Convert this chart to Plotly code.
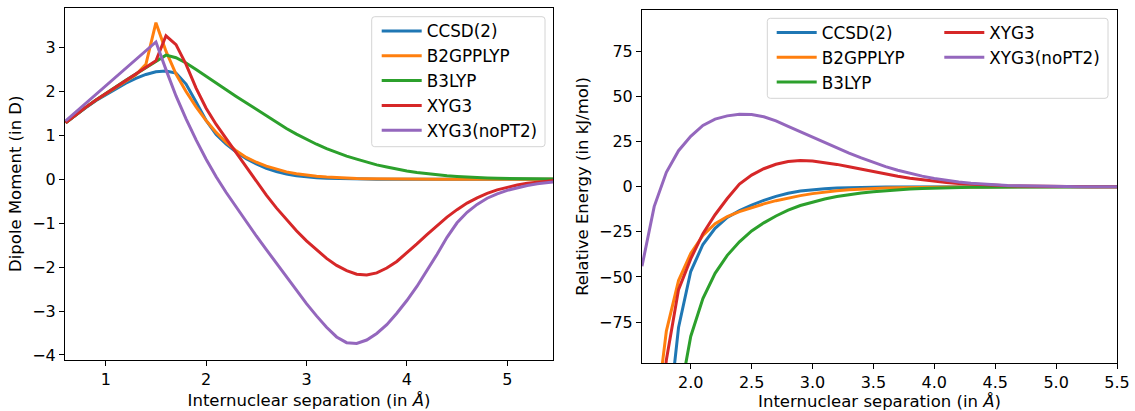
import plotly.graph_objects as go

# ---------------- data ----------------
names = ["CCSD(2)", "B2GPPLYP", "B3LYP", "XYG3", "XYG3(noPT2)"]
colors = ["#1f77b4", "#ff7f0e", "#2ca02c", "#d62728", "#9467bd"]

# Left panel: dipole moment (D)
x_dip = [0.6, 0.7, 0.8, 0.9, 1.0, 1.1, 1.2, 1.3, 1.4, 1.5, 1.6, 1.7, 1.8, 1.9, 2.0,
         2.1, 2.2, 2.3, 2.4, 2.5, 2.6, 2.7, 2.8, 2.9, 3.0, 3.1, 3.2, 3.3, 3.4, 3.5,
         3.6, 3.7, 3.8, 3.9, 4.0, 4.1, 4.2, 4.3, 4.4, 4.5, 4.6, 4.7, 4.8, 4.9, 5.0,
         5.1, 5.2, 5.3, 5.4, 5.5]
dip_ccsd = [1.29, 1.47, 1.63, 1.79, 1.93, 2.07, 2.19, 2.30, 2.39, 2.45, 2.47, 2.42, 2.17, 1.76, 1.34,
            1.02, 0.80, 0.62, 0.47, 0.35, 0.25, 0.18, 0.12, 0.08, 0.055, 0.037, 0.025, 0.017, 0.012, 0.008,
            0.006, 0.004, 0.003, 0.002, 0.002, 0.001, 0.001, 0.001, 0.0, 0.0, 0.0, 0.0, 0.0, 0.0, 0.0,
            0.0, 0.0, 0.0, 0.0, 0.0]
dip_b2gp = [1.29, 1.47, 1.64, 1.80, 1.95, 2.10, 2.24, 2.38, 2.62, 3.57, 2.92, 2.40, 2.00, 1.65, 1.34,
            1.07, 0.84, 0.65, 0.50, 0.39, 0.30, 0.23, 0.17, 0.13, 0.095, 0.07, 0.052, 0.038, 0.028, 0.02,
            0.015, 0.011, 0.008, 0.006, 0.004, 0.003, 0.002, 0.002, 0.001, 0.001, 0.0, 0.0, 0.0, 0.0, 0.0,
            0.0, 0.0, 0.0, 0.0, 0.0]
dip_b3lyp = [1.29, 1.47, 1.64, 1.80, 1.96, 2.11, 2.26, 2.40, 2.55, 2.70, 2.83, 2.77, 2.65, 2.50, 2.34,
             2.19, 2.04, 1.89, 1.74, 1.59, 1.44, 1.30, 1.16, 1.03, 0.91, 0.80, 0.70, 0.61, 0.53, 0.46,
             0.39, 0.33, 0.28, 0.23, 0.19, 0.155, 0.125, 0.10, 0.08, 0.065, 0.05, 0.04, 0.032, 0.025, 0.02,
             0.015, 0.012, 0.009, 0.007, 0.005]
dip_xyg3 = [1.29, 1.47, 1.64, 1.80, 1.95, 2.10, 2.25, 2.40, 2.55, 2.70, 3.27, 3.07, 2.62, 2.08, 1.62,
            1.25, 0.93, 0.60, 0.27, -0.05, -0.36, -0.65, -0.92, -1.17, -1.40, -1.61, -1.80, -1.96, -2.08, -2.16,
            -2.18, -2.13, -2.02, -1.87, -1.68, -1.47, -1.26, -1.05, -0.86, -0.69, -0.54, -0.42, -0.32, -0.24, -0.18,
            -0.13, -0.09, -0.06, -0.04, -0.02]
dip_nopt2 = [1.33, 1.53, 1.73, 1.93, 2.13, 2.33, 2.53, 2.73, 2.93, 3.13, 2.50, 1.90, 1.38, 0.90, 0.46,
             0.06, -0.30, -0.64, -0.97, -1.29, -1.60, -1.91, -2.22, -2.53, -2.83, -3.11, -3.37, -3.59, -3.72, -3.74,
             -3.66, -3.51, -3.31, -3.05, -2.76, -2.44, -2.09, -1.71, -1.32, -0.99, -0.75, -0.57, -0.43, -0.33, -0.25,
             -0.19, -0.14, -0.10, -0.07, -0.05]

# Right panel: relative energy (kJ/mol)
x_en = [1.6, 1.7, 1.8, 1.9, 2.0, 2.1, 2.2, 2.3, 2.4, 2.5, 2.6, 2.7, 2.8, 2.9, 3.0,
        3.1, 3.2, 3.3, 3.4, 3.5, 3.6, 3.7, 3.8, 3.9, 4.0, 4.1, 4.2, 4.3, 4.4, 4.5,
        4.6, 4.7, 4.8, 4.9, 5.0, 5.1, 5.2, 5.3, 5.4, 5.5]
en_ccsd = [-300, -220, -140, -78, -47, -32, -23, -17, -13.2, -10.2, -7.5, -5.3, -3.6, -2.4, -1.6,
           -1.05, -0.7, -0.45, -0.3, -0.2, -0.13, -0.09, -0.06, -0.04, -0.03, -0.02, -0.01, 0, 0, 0,
           0, 0, 0, 0, 0, 0, 0, 0, 0, 0]
en_b2gp = [-200, -135, -80, -52, -37, -27, -20.5, -16.5, -13.8, -11.5, -9.5, -7.7, -6.2, -4.9, -3.8,
           -2.9, -2.2, -1.7, -1.3, -1.0, -0.75, -0.55, -0.4, -0.3, -0.22, -0.16, -0.12, -0.08, -0.06, -0.04,
           -0.03, -0.02, -0.01, -0.01, 0, 0, 0, 0, 0, 0]
en_b3lyp = [-420, -290, -190, -120, -83, -62, -48, -38, -30.5, -24.5, -20, -16.2, -13, -10.4, -8.4,
            -6.8, -5.4, -4.3, -3.4, -2.7, -2.1, -1.6, -1.25, -0.95, -0.72, -0.55, -0.42, -0.32, -0.24, -0.18,
            -0.14, -0.1, -0.08, -0.06, -0.04, -0.03, -0.02, -0.02, -0.01, -0.01]
en_xyg3 = [-250, -160, -96, -57, -40, -26, -15.5, -6.5, 1.5, 6.5, 10, 12.5, 14, 14.5, 14.3,
           13.5, 12.4, 11.1, 9.7, 8.3, 7.0, 5.8, 4.7, 3.8, 3.0, 2.35, 1.8, 1.4, 1.05, 0.8,
           0.6, 0.45, 0.33, 0.25, 0.18, 0.13, 0.1, 0.07, 0.05, 0.03]
en_nopt2 = [-44, -11, 8, 20, 28, 34, 37.5, 39.3, 40.2, 40.0, 38.8, 36.5, 33.5, 30.5, 27.4,
            24.5, 21.5, 18.7, 16.0, 13.5, 11.2, 9.2, 7.4, 5.9, 4.6, 3.5, 2.6, 1.9, 1.4, 1.0,
            0.7, 0.5, 0.35, 0.25, 0.17, 0.12, 0.08, 0.05, 0.03, 0.02]

dip_series = [dip_ccsd, dip_b2gp, dip_b3lyp, dip_xyg3, dip_nopt2]
en_series = [en_ccsd, en_b2gp, en_b3lyp, en_xyg3, en_nopt2]

dip_xticks = [1, 2, 3, 4, 5]
dip_yticks = [-4, -3, -2, -1, 0, 1, 2, 3]
en_xticks = [2.0, 2.5, 3.0, 3.5, 4.0, 4.5, 5.0, 5.5]
en_yticks = [-75, -50, -25, 0, 25, 50, 75]

# ---------------- figure ----------------
W, H = 1135, 411
FONT = "DejaVu Sans"
LW = 3

fig = go.Figure()
for name, col, ys in zip(names, colors, dip_series):
    fig.add_trace(go.Scatter(x=x_dip, y=ys, mode="lines", name=name,
                             line=dict(color=col, width=LW),
                             xaxis="x", yaxis="y", legend="legend"))
right_leg = ["legend2", "legend2", "legend2", "legend3", "legend3"]
for name, col, ys, lg in zip(names, colors, en_series, right_leg):
    fig.add_trace(go.Scatter(x=x_en, y=ys, mode="lines", name=name,
                             line=dict(color=col, width=LW),
                             xaxis="x2", yaxis="y2", legend=lg))

def px_x(p):
    return p / W

def px_y(p):
    return 1 - p / H

axis_common = dict(showline=True, mirror=True, linecolor="black", linewidth=1,
                   ticks="outside", ticklen=5, tickwidth=1, tickcolor="black",
                   showgrid=False, zeroline=False, automargin=False,
                   tickfont=dict(family=FONT, size=16, color="black"))
title_font = dict(family=FONT, size=16.5, color="black")
xtitle = "Internuclear separation (in <i>Å</i>)"

fig.update_layout(
    width=W, height=H,
    margin=dict(l=0, r=0, t=0, b=0),
    paper_bgcolor="white", plot_bgcolor="white",
    font=dict(family=FONT, color="black"),
    xaxis=dict(domain=[px_x(65), px_x(553)], range=[0.594, 5.456],
               tickvals=dip_xticks, anchor="y",
               title=dict(text=xtitle, font=title_font, standoff=6), **axis_common),
    yaxis=dict(domain=[px_y(360), px_y(7.5)], range=[-4.115, 3.915],
               tickvals=dip_yticks, anchor="x",
               title=dict(text="Dipole Moment (in D)", font=title_font, standoff=6), **axis_common),
    xaxis2=dict(domain=[px_x(642), px_x(1117)], range=[1.6, 5.5],
                tickvals=en_xticks, tickformat=".1f", anchor="y2",
                title=dict(text=xtitle, font=title_font, standoff=6), **axis_common),
    yaxis2=dict(domain=[px_y(363), px_y(10)], range=[-97.7, 98],
                tickvals=en_yticks, anchor="x2",
                title=dict(text="Relative Energy (in kJ/mol)", font=title_font, standoff=6), **axis_common),
)

leg_common = dict(bgcolor="rgba(0,0,0,0)", borderwidth=0, itemwidth=40,
                  font=dict(family=FONT, size=16.8, color="black"),
                  xanchor="left", yanchor="top", orientation="v", tracegroupgap=0)
fig.update_layout(
    legend=dict(x=px_x(376.7), y=px_y(13.5), **leg_common),
    legend2=dict(x=px_x(771.7), y=px_y(15), **leg_common),
    legend3=dict(x=px_x(939.3), y=px_y(15), **leg_common),
)

def rounded_box(x0, y0, x1, y1, r=3):
    X0, X1 = px_x(x0), px_x(x1)
    Y0, Y1 = px_y(y0), px_y(y1)   # Y0 top, Y1 bottom
    rx, ry = r / W, r / H
    return (f"M{X0+rx},{Y0} L{X1-rx},{Y0} Q{X1},{Y0} {X1},{Y0-ry} "
            f"L{X1},{Y1+ry} Q{X1},{Y1} {X1-rx},{Y1} L{X0+rx},{Y1} "
            f"Q{X0},{Y1} {X0},{Y1+ry} L{X0},{Y0-ry} Q{X0},{Y0} {X0+rx},{Y0} Z")

for box in [(371.7, 16.7, 545, 146.7), (767.3, 18.3, 1108, 98.3)]:
    fig.add_shape(type="path", path=rounded_box(*box), xref="paper", yref="paper",
                  fillcolor="rgba(255,255,255,0.8)", line=dict(color="#d4d4d4", width=1),
                  layer="above")

page_fix = (
    "var d=document.documentElement,b=document.body;"
    "d.style.margin='0';d.style.padding='0';d.style.overflow='hidden';"
    "b.style.margin='0';b.style.padding='0';b.style.overflow='hidden';"
)
fig.write_html("out.html", config={"displayModeBar": False}, post_script=page_fix)
